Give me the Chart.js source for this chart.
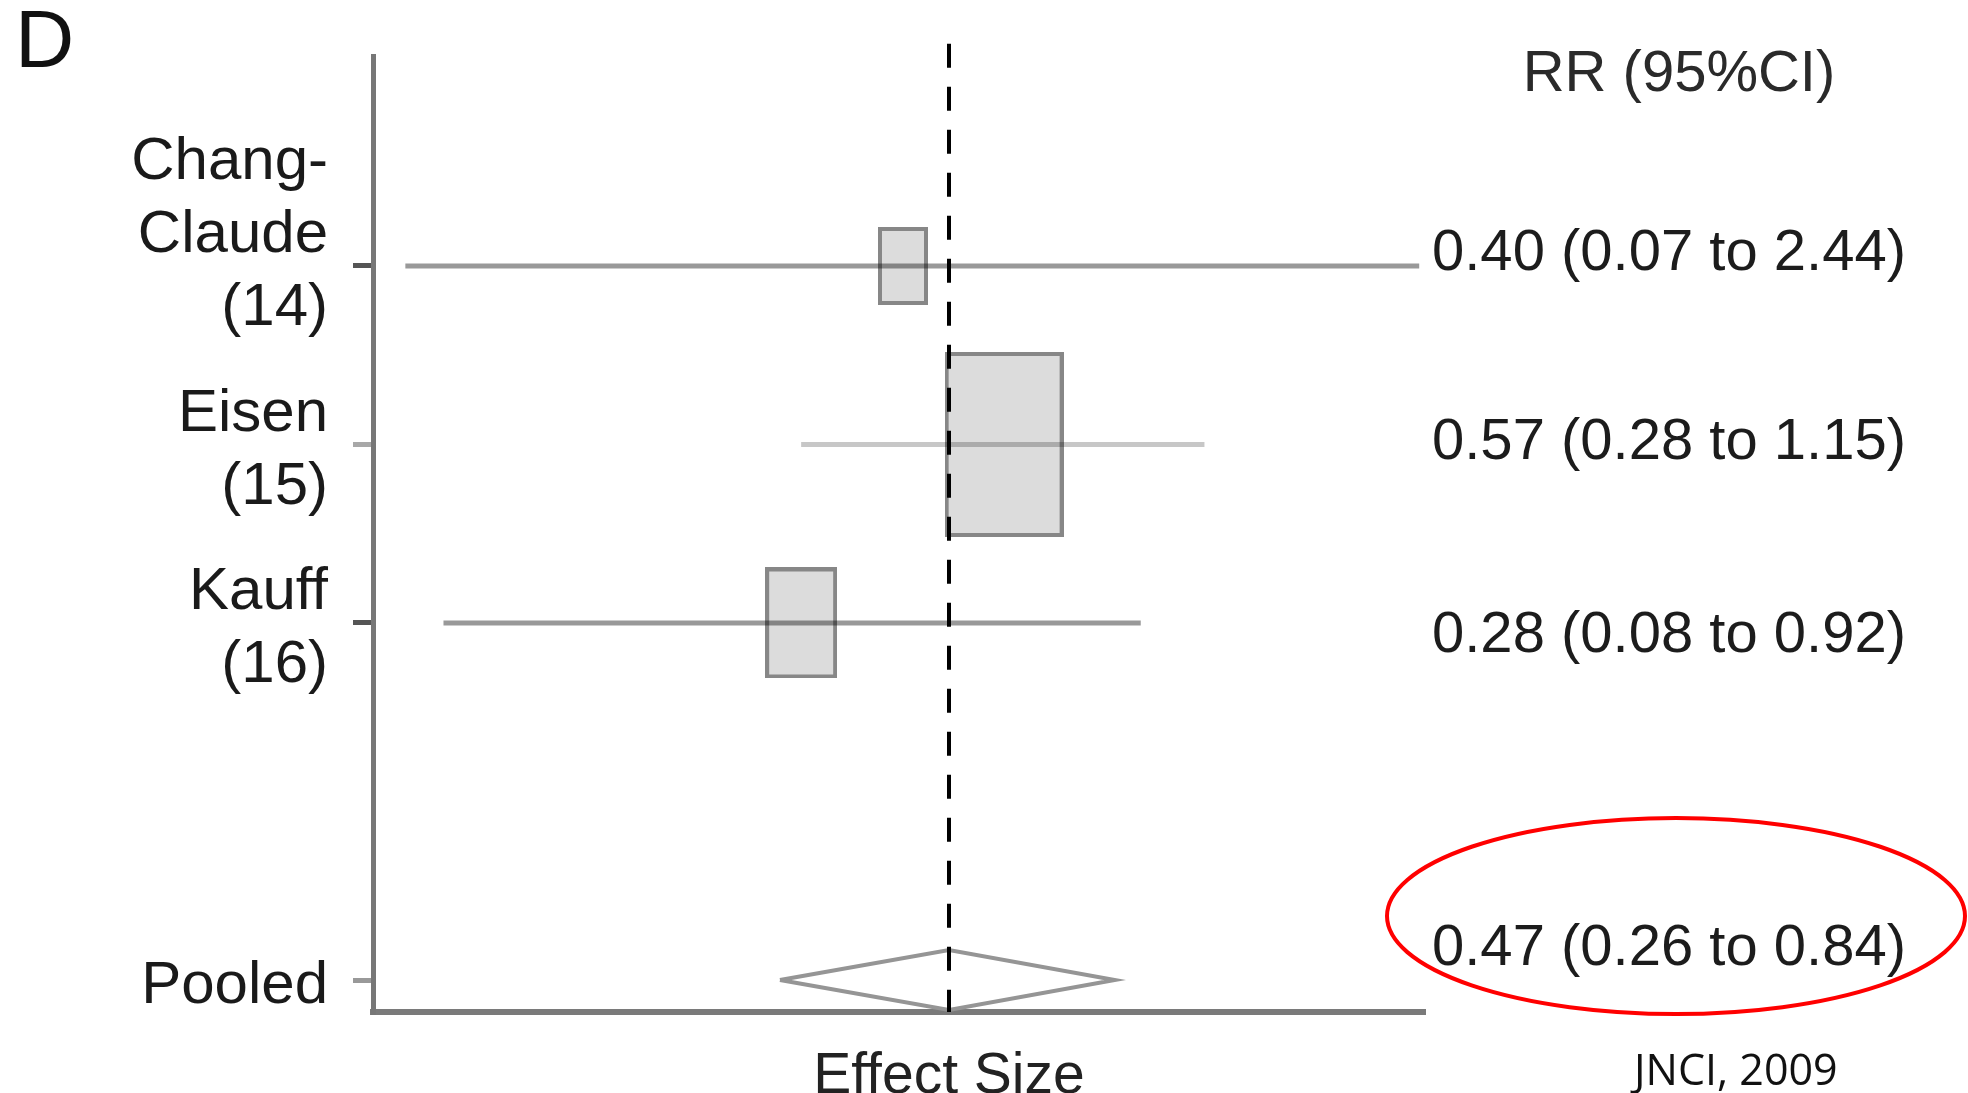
<!DOCTYPE html>
<html>
<head>
<meta charset="utf-8">
<title>Forest plot: RR (95% CI)</title>
<script src="https://cdn.jsdelivr.net/npm/chart.js@4.4.1/dist/chart.umd.min.js"></script>
<style>
  html, body { margin: 0; padding: 0; background: #ffffff; }
  #wrap { width: 1968px; height: 1093px; position: relative; }
  canvas { display: block; }
</style>
</head>
<body>
<div id="wrap"><canvas id="forest" width="1968" height="1093"></canvas></div>
<script>
// ---- study data ----------------------------------------------------------
const studyNames = [['Chang-', 'Claude', '(14)'], ['Eisen', '(15)'], ['Kauff', '(16)']];
const studyRows  = [0, 1, 2];
const rr         = [0.40, 0.57, 0.28];
const ciLow      = [0.07, 0.28, 0.08];
const ciHigh     = [2.44, 1.15, 0.92];
const weights    = [11.5, 65.0, 23.5];   // % weight of each study

const pooledName = 'Pooled';
const pooledRow  = 4;
const pooledRR   = 0.47;
const pooledLow  = 0.26;
const pooledHigh = 0.84;

const headerText = 'RR (95%CI)';
const axisTitle  = 'Effect Size';
const panelTag   = 'D';
const sourceText = 'JNCI, 2009';

// ---- look & layout -------------------------------------------------------
const FONT = "'Liberation Sans', Arial, Helvetica, sans-serif";
const Y_MIN = -1.176, Y_MAX = 4.179;       // vertical extent of the plot
const X_MIN = 0.0625, X_MAX = 2.49;        // log-scale extent of the plot
const BOX_SCALE = 22.9, BOX_ASPECT = 0.645;
const DIAMOND_HALF = 0.168;                // half height of the pooled diamond (rows)
const ciColors   = ['rgba(0,0,0,0.40)', 'rgba(0,0,0,0.22)', 'rgba(0,0,0,0.40)'];
const tickColors = ['#555555', '#a8a8a8', '#555555', '#999999'];
const labelNudge = [-12, -1, 13, -31];     // vertical nudge of the RR text per row (px)

function fmt(v) { return v.toFixed(2); }

// weight box used as a point image
function boxImage(weight) {
  const h = Math.round(BOX_SCALE * Math.sqrt(weight));
  const w = Math.round(h * BOX_ASPECT);
  const c = document.createElement('canvas');
  c.width = w; c.height = h;
  const g = c.getContext('2d');
  g.fillStyle = '#dcdcdc';
  g.fillRect(0, 0, w, h);
  g.strokeStyle = '#878787';
  g.lineWidth = 4;
  g.strokeRect(2, 2, w - 4, h - 4);
  return c;
}
const boxImages = weights.map(boxImage);

// ---- datasets ------------------------------------------------------------
const datasets = [];

// reference line at the pooled estimate
datasets.push({
  type: 'scatter', showLine: true, clip: false, order: 0,
  data: [{ x: pooledRR, y: Y_MIN - 0.068 }, { x: pooledRR, y: Y_MAX }],
  borderColor: '#000000', borderWidth: 4, borderDash: [24, 19],
  pointRadius: 0, borderCapStyle: 'butt'
});

// confidence interval whiskers
studyRows.forEach((row, i) => {
  datasets.push({
    type: 'scatter', showLine: true, order: 1,
    data: [{ x: ciLow[i], y: row }, { x: ciHigh[i], y: row }],
    borderColor: ciColors[i], borderWidth: 5, pointRadius: 0, borderCapStyle: 'butt'
  });
});

// weight boxes at each study estimate
datasets.push({
  type: 'scatter', order: 2,
  data: studyRows.map((row, i) => ({ x: rr[i], y: row })),
  pointStyle: ctx => boxImages[ctx.dataIndex],
  pointRadius: 1
});

// pooled estimate diamond
datasets.push({
  type: 'scatter', showLine: true, clip: false, order: 1,
  data: [
    { x: pooledLow,  y: pooledRow },
    { x: pooledRR,   y: pooledRow - DIAMOND_HALF },
    { x: pooledHigh, y: pooledRow },
    { x: pooledRR,   y: pooledRow + DIAMOND_HALF },
    { x: pooledLow,  y: pooledRow }
  ],
  borderColor: '#959595', borderWidth: 4, pointRadius: 0,
  borderJoinStyle: 'miter', tension: 0
});

// row labels for the y axis
const rowLabels = {};
studyRows.forEach((row, i) => {
  const lines = studyNames[i].slice();
  if (lines.length > 2) lines.push('');   // three-line names sit half a line higher
  rowLabels[row] = lines;
});
rowLabels[pooledRow] = [pooledName];

// ---- text drawn around the plot -----------------------------------------
const forestText = {
  id: 'forestText',
  afterDraw(chart) {
    const ctx = chart.ctx;
    const xs = chart.scales.x, ys = chart.scales.y;
    const area = chart.chartArea;
    ctx.save();

    // panel tag
    ctx.fillStyle = '#111111';
    ctx.font = `82px ${FONT}`;
    ctx.textAlign = 'left';
    ctx.textBaseline = 'alphabetic';
    ctx.fillText(panelTag, 15, 67);

    // column header
    ctx.fillStyle = '#2a2a2a';
    ctx.font = `58px ${FONT}`;
    ctx.textAlign = 'center';
    ctx.textBaseline = 'middle';
    ctx.fillText(headerText, 1679, 75);

    // RR (95% CI) text per row
    ctx.fillStyle = '#1c1c1c';
    ctx.textAlign = 'left';
    const textX = area.right + 7;
    studyRows.forEach((row, i) => {
      const y = ys.getPixelForValue(row) + labelNudge[i];
      ctx.fillText(`${fmt(rr[i])} (${fmt(ciLow[i])} to ${fmt(ciHigh[i])})`, textX, y);
    });
    const py = ys.getPixelForValue(pooledRow) + labelNudge[3];
    ctx.fillText(`${fmt(pooledRR)} (${fmt(pooledLow)} to ${fmt(pooledHigh)})`, textX, py);

    // highlight ring around the pooled result
    ctx.strokeStyle = '#ff0000';
    ctx.lineWidth = 4;
    ctx.beginPath();
    ctx.ellipse(1676, py - 33, 289, 98, 0, 0, Math.PI * 2);
    ctx.stroke();

    // x axis title, centred on the reference line
    ctx.fillStyle = '#222222';
    ctx.font = `57px ${FONT}`;
    ctx.textAlign = 'center';
    ctx.textBaseline = 'alphabetic';
    ctx.fillText(axisTitle, xs.getPixelForValue(pooledRR), 1093);

    // source note
    ctx.fillStyle = '#111111';
    ctx.font = `43px 'Open Sans', 'Noto Sans', sans-serif`;
    ctx.textAlign = 'left';
    ctx.fillText(sourceText, 1634, 1085);

    ctx.restore();
  }
};

new Chart(document.getElementById('forest'), {
  type: 'scatter',
  data: { datasets },
  plugins: [forestText],
  options: {
    responsive: false,
    animation: false,
    events: [],
    layout: { padding: { top: 56, right: 543, bottom: 0, left: 0 } },
    plugins: { legend: { display: false }, tooltip: { enabled: false }, title: { display: false } },
    scales: {
      x: {
        type: 'logarithmic',
        min: X_MIN, max: X_MAX, bounds: 'data',
        grid: { display: false },
        ticks: { display: false },
        border: { display: true, color: '#7a7a7a', width: 6 },
        afterFit: s => { s.height = 81; s.paddingLeft = 0; s.paddingRight = 0; }
      },
      y: {
        type: 'linear',
        reverse: true,
        min: Y_MIN, max: Y_MAX, bounds: 'data',
        afterBuildTicks: s => {
          s.ticks = studyRows.concat([pooledRow]).map(v => ({ value: v }));
        },
        // fixed axis width; labels may overhang the plot edges
        afterFit: s => { s.width = 373; s.paddingTop = 0; s.paddingBottom = 0; },
        grid: {
          display: true, drawOnChartArea: false, drawTicks: true,
          tickLength: 20, tickWidth: 5, lineWidth: 5,
          tickColor: ctx => tickColors[ctx.index] || '#777777'
        },
        border: { display: true, color: '#777777', width: 5 },
        ticks: {
          autoSkip: false,
          padding: 25,
          labelOffset: 6,
          color: '#1a1a1a',
          font: { family: FONT, size: 60, lineHeight: 1.2167 },
          callback: v => rowLabels[v] || ''
        }
      }
    }
  }
});
</script>
</body>
</html>
